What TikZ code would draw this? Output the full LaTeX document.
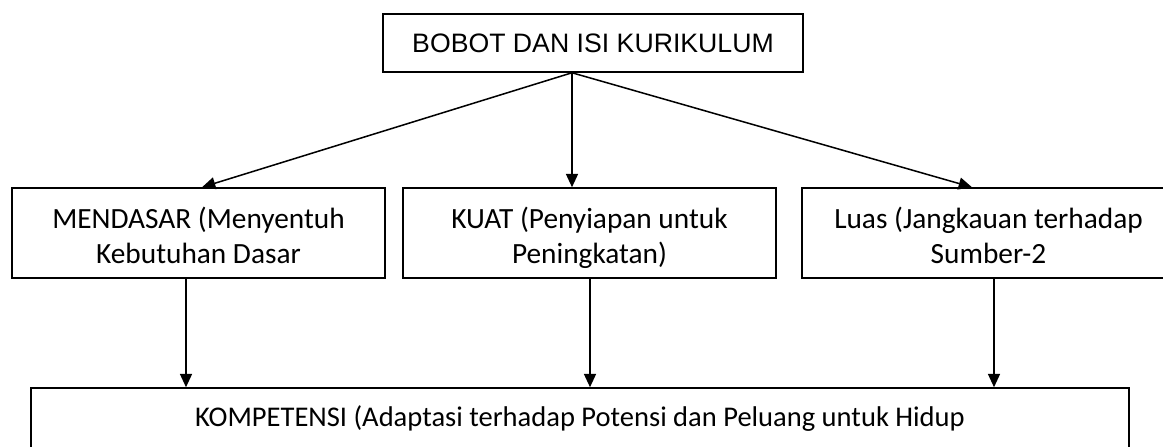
\documentclass[tikz,border=0pt]{standalone}
\usepackage{fontspec}
\setmainfont{Carlito}
\newfontfamily\arialfont{Liberation Sans}
\usetikzlibrary{arrows.meta}

\newcommand{\strutatas}{\rule{0pt}{26.25pt}}
\newcommand{\strutbawah}{\rule[-6.75pt]{0pt}{0pt}}

\begin{document}
\begin{tikzpicture}[x=0.75pt,y=-0.75pt,>={Triangle[length=10pt,width=9pt]},
	kotak/.style={draw,line width=0.4mm,rectangle,inner sep=0pt,align=center,font=\fontsize{22}{26.25}\selectfont},
	duabaris/.style={kotak,minimum width=373*0.75pt,minimum height=90*0.75pt},
	panah/.style={line width=0.4mm,->}]
			\useasboundingbox (0,0) rectangle (1163,446);
			\clip (0,0) rectangle (1163,446);

			\node[kotak,minimum width=420*0.75pt,minimum height=58*0.75pt,font=\arialfont\fontsize{20}{24}\selectfont] (bobot) at (593,43) {BOBOT DAN ISI KURIKULUM};
			\node[duabaris] (mendasar) at (198.5,233) {\strutatas MENDASAR (Menyentuh\\Kebutuhan Dasar\strutbawah};
			\node[duabaris] (kuat) at (589.5,233) {\strutatas KUAT (Penyiapan untuk\\Peningkatan)\strutbawah};
			\node[duabaris] (luas) at (988.5,233) {\strutatas Luas (Jangkauan terhadap\\Sumber-2\strutbawah};
			\node[kotak,minimum width=1098*0.75pt,minimum height=62*0.75pt,font=\fontsize{21.4}{26}\selectfont] (kompetensi) at (580,419) {KOMPETENSI (Adaptasi terhadap Potensi dan Peluang untuk Hidup};

			\coordinate (O) at ([xshift=-21*0.75pt]bobot.south);

			\draw[panah] (O) -- ([xshift=3.5*0.75pt]mendasar.north);
			\draw[panah] (O) -- ([xshift=-17.5*0.75pt]kuat.north);
			\draw[panah] (O) -- ([xshift=-16.5*0.75pt]luas.north);
			\draw[panah] ([xshift=-12.5*0.75pt]mendasar.south) -- ([xshift=-12.5*0.75pt]mendasar.south |- kompetensi.north);
			\draw[panah] ([xshift=0.5*0.75pt]kuat.south) -- ([xshift=0.5*0.75pt]kuat.south |- kompetensi.north);
			\draw[panah] ([xshift=5.5*0.75pt]luas.south) -- ([xshift=5.5*0.75pt]luas.south |- kompetensi.north);
		\end{tikzpicture}
\end{document}
